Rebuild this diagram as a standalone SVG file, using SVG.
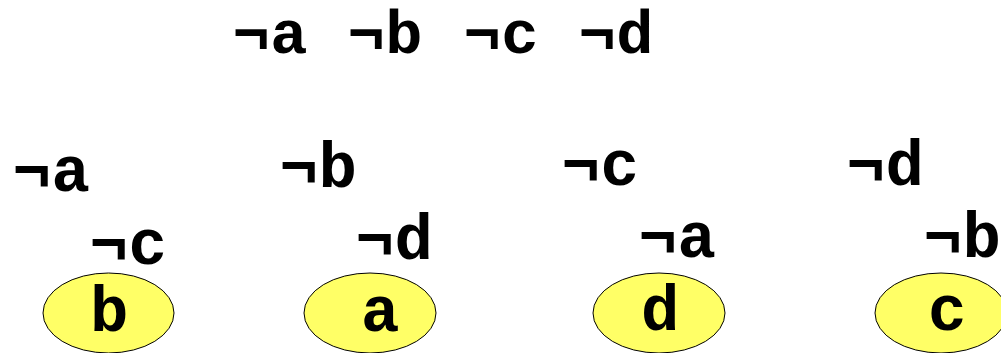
<svg xmlns="http://www.w3.org/2000/svg" width="1001" height="353" viewBox="0 0 1001 353">
<style>
.t{font-family:"Courier New","Nimbus Mono PS","FreeMono","Liberation Mono",monospace;font-weight:bold;font-size:64px;fill:#000}
.h{font-size:62px}
.n{fill:#FFFF66;stroke:#000;stroke-width:1}
</style>
<rect width="1001" height="353" fill="#fff"/>
<g id="top">
<text class="t h" x="233" y="53">¬a</text>
<text class="t h" x="348" y="53">¬b</text>
<text class="t h" x="464" y="53">¬c</text>
<text class="t h" x="579" y="53">¬d</text>
</g>
<g id="labels">
<text class="t" x="13" y="191">¬a</text>
<text class="t" x="90" y="264">¬c</text>
<text class="t" x="280" y="187">¬b</text>
<text class="t" x="356" y="259">¬d</text>
<text class="t" x="562" y="185">¬c</text>
<text class="t" x="639" y="257">¬a</text>
<text class="t" x="847" y="185">¬d</text>
<text class="t" x="924" y="257">¬b</text>
</g>
<g id="node-b"><ellipse class="n" cx="108.5" cy="313" rx="65.5" ry="40"/><text class="t" x="90" y="331">b</text></g>
<g id="node-a"><ellipse class="n" cx="370" cy="313" rx="66" ry="40"/><text class="t" x="361" y="331">a</text></g>
<g id="node-d"><ellipse class="n" cx="659" cy="313" rx="66" ry="40"/><text class="t" x="641" y="330">d</text></g>
<g id="node-c"><ellipse class="n" cx="941" cy="313" rx="66" ry="40"/><text class="t" x="928" y="330">c</text></g>
</svg>
